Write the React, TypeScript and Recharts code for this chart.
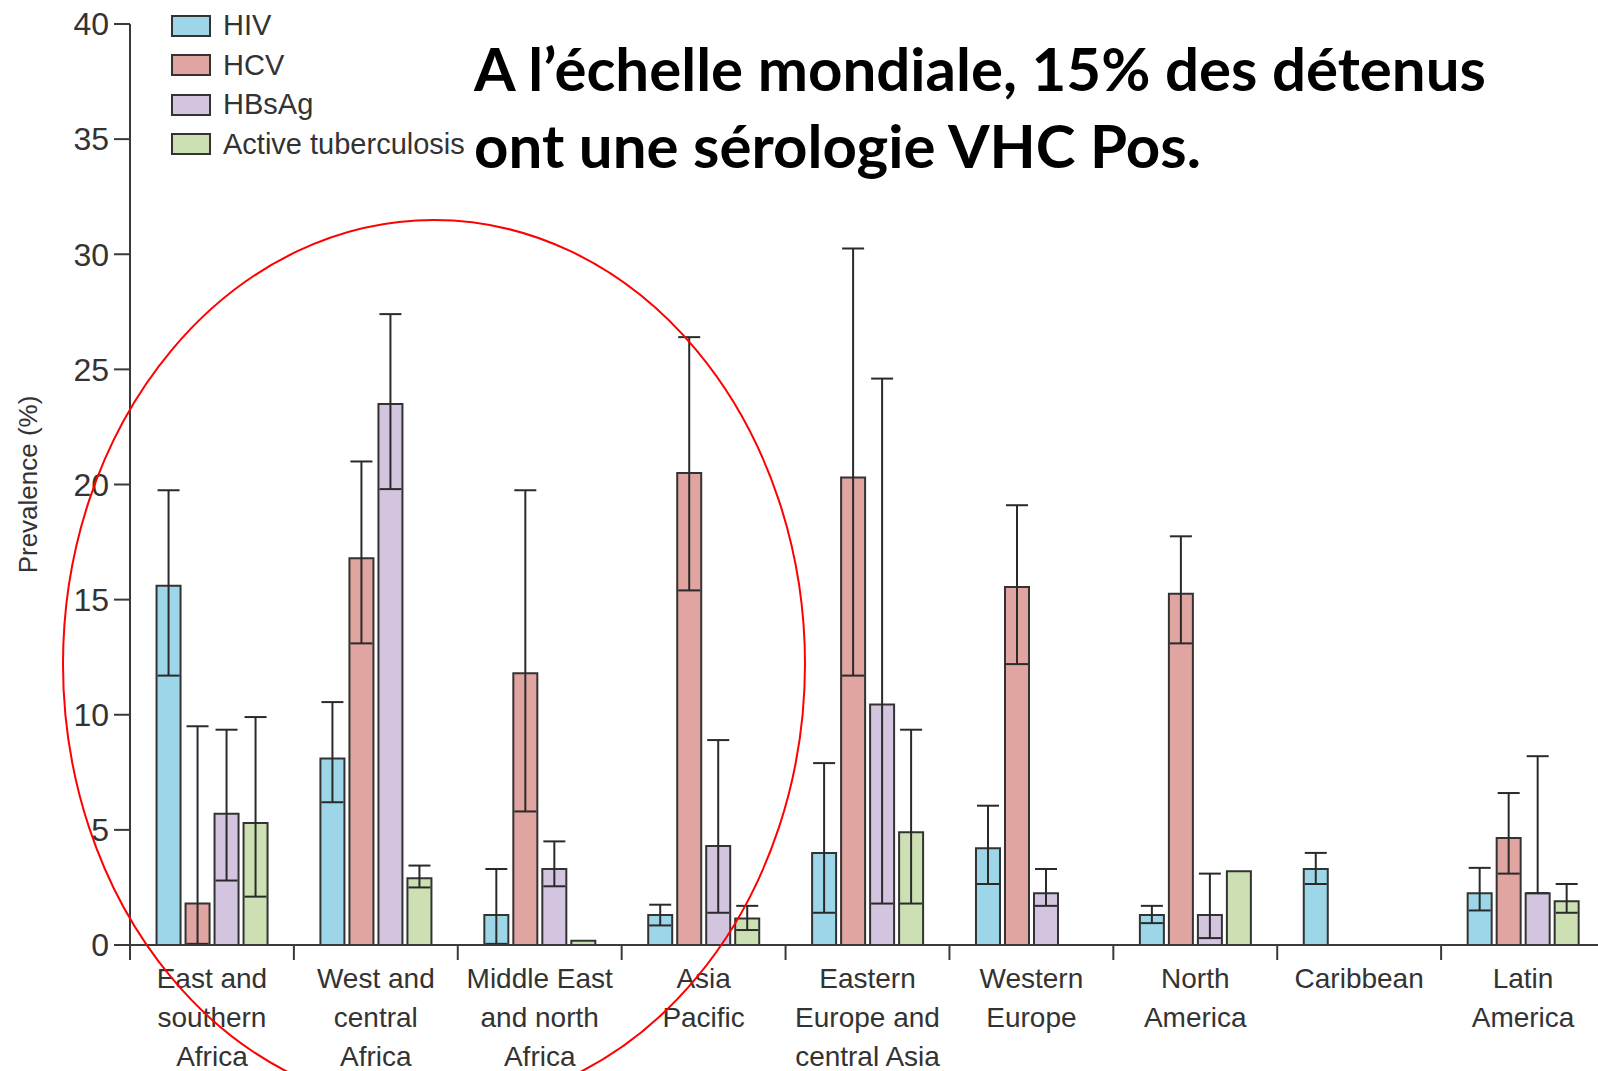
import { BarChart, Bar, XAxis, YAxis, ErrorBar, Legend } from "recharts"

const regions = [
  "East and southern Africa",
  "West and central Africa",
  "Middle East and north Africa",
  "Asia Pacific",
  "Eastern Europe and central Asia",
  "Western Europe",
  "North America",
  "Caribbean",
  "Latin America",
]
const regionLines = [
  ["East and", "southern", "Africa"],
  ["West and", "central", "Africa"],
  ["Middle East", "and north", "Africa"],
  ["Asia", "Pacific"],
  ["Eastern", "Europe and", "central Asia"],
  ["Western", "Europe"],
  ["North", "America"],
  ["Caribbean"],
  ["Latin", "America"],
]

const hiv = [15.6, 8.1, 1.3, 1.3, 4.0, 4.2, 1.3, 3.3, 2.25]
const hivLow = [11.7, 6.2, 0.05, 0.85, 1.4, 2.65, 0.95, 2.65, 1.5]
const hivHigh = [19.75, 10.55, 3.3, 1.75, 7.9, 6.05, 1.7, 4.0, 3.35]

const hcv = [1.8, 16.8, 11.8, 20.5, 20.3, 15.55, 15.25, null, 4.65]
const hcvLow = [0.05, 13.1, 5.8, 15.4, 11.7, 12.2, 13.1, null, 3.1]
const hcvHigh = [9.5, 21.0, 19.75, 26.4, 30.25, 19.1, 17.75, null, 6.6]

const hbsag = [5.7, 23.5, 3.3, 4.3, 10.45, 2.25, 1.3, null, 2.25]
const hbsagLow = [2.8, 19.8, 2.55, 1.4, 1.8, 1.7, 0.3, null, 2.25]
const hbsagHigh = [9.35, 27.4, 4.5, 8.9, 24.6, 3.3, 3.1, null, 8.2]

const tb = [5.3, 2.9, 0.18, 1.15, 4.9, null, 3.2, null, 1.9]
const tbLow = [2.1, 2.5, null, 0.65, 1.8, null, null, null, 1.4]
const tbHigh = [9.9, 3.45, null, 1.7, 9.35, null, null, null, 2.65]

const yTicks = [0, 5, 10, 15, 20, 25, 30, 35, 40]

const series = [
  { key: "HIV", color: "#9dd6e8" },
  { key: "HCV", color: "#e0a4a1" },
  { key: "HBsAg", color: "#d3c4e0" },
  { key: "Active tuberculosis", color: "#cce0b4" },
]

function err(v: number | null, lo: number | null, hi: number | null) {
  if (v == null || lo == null || hi == null) return null
  return [v - lo, hi - v]
}

const data = regions.map((name, i) => ({
  name,
  HIV: hiv[i],
  HIVErr: err(hiv[i], hivLow[i], hivHigh[i]),
  HCV: hcv[i],
  HCVErr: err(hcv[i], hcvLow[i], hcvHigh[i]),
  HBsAg: hbsag[i],
  HBsAgErr: err(hbsag[i], hbsagLow[i], hbsagHigh[i]),
  "Active tuberculosis": tb[i],
  "Active tuberculosisErr": err(tb[i], tbLow[i], tbHigh[i]),
}))

const W = 1620
const H = 1071
const M = { top: 24, right: 15, left: 0, bottom: 0 }
const Y_W = 130
const band = (W - M.left - M.right - Y_W) / regions.length
const AXIS = "#3a3a3a"
const FONT = "'Liberation Sans', Arial, sans-serif"

function RegionTick(props: any) {
  const { x, y, payload } = props
  const idx = regions.indexOf(payload.value)
  const lines = regionLines[idx] || []
  return (
    <g>
      <line x1={x - band / 2} y1={y} x2={x - band / 2} y2={y + 15} stroke={AXIS} strokeWidth={2} />
      {idx === regions.length - 1 && (
        <line x1={x + band / 2} y1={y} x2={x + band / 2} y2={y + 15} stroke={AXIS} strokeWidth={2} />
      )}
      <text x={x} y={y + 43} textAnchor="middle" fontSize={28} fill="#333" fontFamily={FONT}>
        {lines.map((l, i) => (
          <tspan key={i} x={x} dy={i === 0 ? 0 : 39}>
            {l}
          </tspan>
        ))}
      </text>
    </g>
  )
}

function LegendBox() {
  return (
    <div style={{ fontFamily: FONT }}>
      {series.map((s) => (
        <div key={s.key} style={{ display: "flex", alignItems: "center", height: 39.5 }}>
          <div
            style={{
              width: 36,
              height: 18,
              background: s.color,
              border: "2px solid #333",
              marginRight: 12,
            }}
          />
          <span style={{ fontSize: 29, color: "#333", whiteSpace: "nowrap" }}>{s.key}</span>
        </div>
      ))}
    </div>
  )
}

export default function App() {
  return (
    <div
      style={{
        position: "absolute",
        left: 0,
        top: 0,
        width: 1598,
        height: 1071,
        overflow: "hidden",
        background: "#fff",
      }}
    >
      <BarChart
        width={W}
        height={H}
        data={data}
        margin={M}
        barCategoryGap="16.2%"
        barGap={5}
      >
        <XAxis
          dataKey="name"
          interval={0}
          height={H - M.top - 921}
          tickLine={false}
          tickSize={0}
          tickMargin={0}
          stroke={AXIS}
          strokeWidth={2}
          tick={<RegionTick />}
        />
        <YAxis
          width={Y_W}
          domain={[0, 40]}
          ticks={yTicks}
          interval={0}
          tickSize={16}
          tickMargin={5}
          stroke={AXIS}
          strokeWidth={2}
          tick={{ fontSize: 32, fill: "#333", fontFamily: FONT }}
          label={{
            value: "Prevalence (%)",
            angle: -90,
            position: "insideLeft",
            offset: 28,
            style: { textAnchor: "middle", fontSize: 26, fill: "#333", fontFamily: FONT },
          }}
        />
        <Legend
          content={<LegendBox />}
          layout="horizontal"
          verticalAlign="middle"
          wrapperStyle={{ top: 6, left: 171, width: 330, height: 160 }}
        />
        {series.map((s) => (
          <Bar
            key={s.key}
            dataKey={s.key}
            fill={s.color}
            stroke="#333"
            strokeWidth={2}
            isAnimationActive={false}
          >
            <ErrorBar
              dataKey={s.key + "Err"}
              direction="y"
              width={11}
              stroke="#2a2a2a"
              strokeWidth={2}
            />
          </Bar>
        ))}
      </BarChart>
      <div
        style={{
          position: "absolute",
          left: 474,
          top: 30,
          fontFamily: "Lato, sans-serif",
          fontWeight: 700,
          fontSize: 60,
          lineHeight: "77px",
          color: "#000",
          whiteSpace: "nowrap",
        }}
      >
        A l’échelle mondiale, 15% des détenus
        <br />
        ont une sérologie VHC Pos.
      </div>
      <svg
        width={1598}
        height={1071}
        style={{ position: "absolute", left: 0, top: 0, pointerEvents: "none" }}
      >
        <ellipse cx={434} cy={664} rx={371} ry={444} fill="none" stroke="#ff0000" strokeWidth={2} />
      </svg>
    </div>
  )
}
